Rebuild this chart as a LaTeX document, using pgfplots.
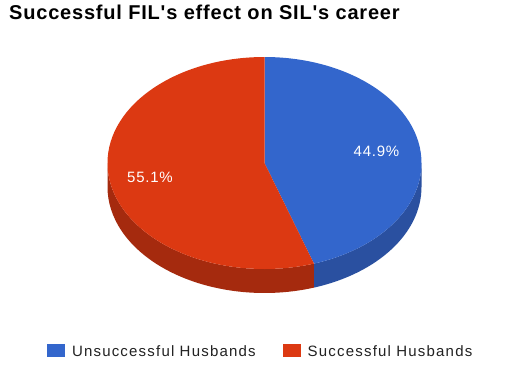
\documentclass[border=0pt]{standalone}
\usepackage{pgfplots}
\usepackage{pgfplotstable}
\pgfplotsset{compat=1.18}
\usepackage{fontspec}
\setmainfont{Liberation Sans}
\newfontfamily\legfont[LetterSpace=8]{Liberation Sans}
\newfontfamily\lblfont[LetterSpace=5]{Liberation Sans}
\newfontfamily\titlefont[LetterSpace=4]{Liberation Sans}
\definecolor{pieblue}{RGB}{51,102,204}
\definecolor{piered}{RGB}{220,57,18}
\definecolor{pieblueside}{RGB}{42,80,160}
\definecolor{pieredside}{RGB}{165,42,14}
\definecolor{legtext}{RGB}{34,34,34}
\pgfplotstableread{
label value
{Unsuccessful Husbands} 44.9
{Successful Husbands} 55.1
}\piedata
\begin{document}
\begin{tikzpicture}
\pgfplotstablegetelem{0}{value}\of\piedata
\let\va\pgfplotsretval
\pgfplotstablegetelem{1}{value}\of\piedata
\let\vb\pgfplotsretval
\pgfmathsetmacro\aend{90-3.6*\va}
\pgfmathsetmacro\bend{\aend+360}
\begin{axis}[
  x=1pt, y=1pt, xmin=0, xmax=530, ymin=0, ymax=376,
  y dir=reverse, hide axis, scale only axis, clip=false,
  legend columns=2,
  legend image code/.code={\fill[#1, draw=none] (0pt,-1pt) rectangle (18pt,12pt);},
  legend style={draw=none, fill=none, inner sep=0pt, outer sep=0pt,
    at={(axis cs:47,356)}, anchor=base west,
    font=\legfont\fontsize{15}{18}\selectfont, text=legtext,
    nodes={inner sep=0pt, anchor=base west},
    /tikz/every odd column/.append style={column sep=7pt},
    /tikz/every even column/.append style={column sep=27pt}},
]
\fill[white] (axis cs:0,0) rectangle (axis cs:530,376);
% sides
\fill[pieblueside] (axis cs:264.5,163) ++(\aend:157pt and 106pt)
  arc[start angle=\aend, end angle=0, x radius=157pt, y radius=106pt]
  -- ++(0pt,-24pt)
  arc[start angle=0, end angle=\aend, x radius=157pt, y radius=106pt] -- cycle;
\fill[pieredside] (axis cs:264.5,163) ++(180:157pt and 106pt)
  arc[start angle=180, end angle=\bend, x radius=157pt, y radius=106pt]
  -- ++(0pt,-24pt)
  arc[start angle=\bend, end angle=180, x radius=157pt, y radius=106pt] -- cycle;
% tops
\fill[pieblue] (axis cs:264.5,163) -- ++(90:157pt and 106pt)
  arc[start angle=90, end angle=\aend, x radius=157pt, y radius=106pt] -- cycle;
\fill[piered] (axis cs:264.5,163) -- ++(90:157pt and 106pt)
  arc[start angle=90, end angle=\bend, x radius=157pt, y radius=106pt] -- cycle;
% labels
\node[text=white, font=\lblfont\fontsize{15}{18}\selectfont] at (axis cs:376.5,151.5) {\va\%};
\node[text=white, font=\lblfont\fontsize{15}{18}\selectfont] at (axis cs:150,177.5) {\vb\%};
\node[anchor=base west, inner sep=0pt, font=\titlefont\bfseries\fontsize{20}{24}\selectfont] at (axis cs:9,19) {Successful FIL's effect on SIL's career};
\addlegendimage{fill=pieblue, draw=none}
\addlegendentry{Unsuccessful Husbands}
\addlegendimage{fill=piered, draw=none}
\addlegendentry{Successful Husbands}
\end{axis}
\end{tikzpicture}
\end{document}
